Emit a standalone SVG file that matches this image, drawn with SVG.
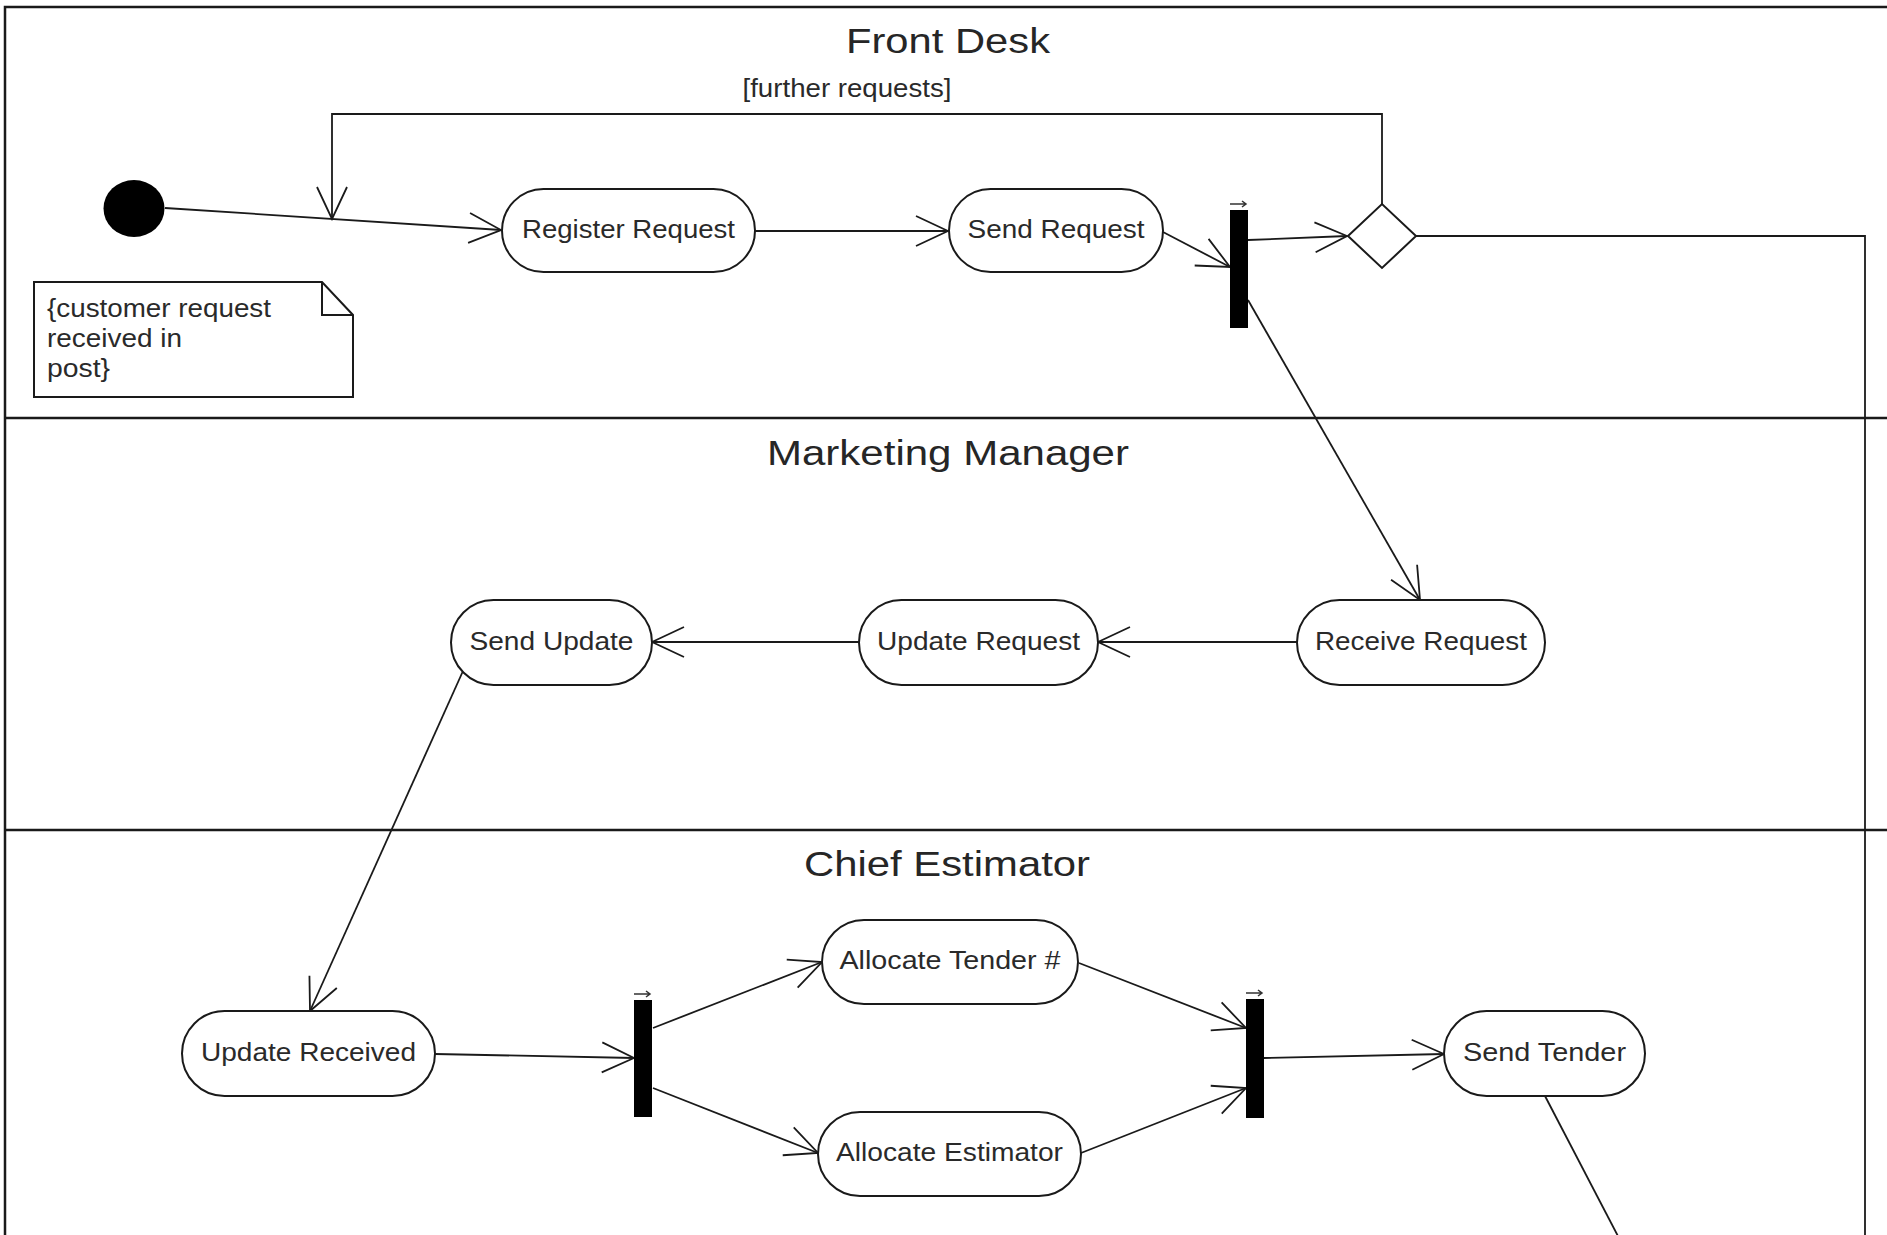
<svg xmlns="http://www.w3.org/2000/svg" width="1887" height="1235" viewBox="0 0 1887 1235">
<defs>
<marker id="arr" markerUnits="userSpaceOnUse" viewBox="-36 -18 38 36" refX="0" refY="0" markerWidth="38" markerHeight="36" orient="auto">
<path d="M-32,-15 L0,0 L-32,15" fill="none" stroke="#1a1a1a" stroke-width="1.8"/>
</marker>
<style>
.lane{fill:none;stroke:#1a1a1a;stroke-width:2.5}
.title{font-family:"Liberation Sans",Arial,sans-serif;font-size:35px;fill:#262626;text-anchor:middle}
.node rect{fill:#fff;stroke:#1a1a1a;stroke-width:2}
.lbl{font-family:"Liberation Sans",Arial,sans-serif;font-size:26px;fill:#2a2a2a;text-anchor:middle}
.note{font-family:"Liberation Sans",Arial,sans-serif;font-size:26px;fill:#2a2a2a}
.bar{fill:#000}
.tick{stroke:#333;stroke-width:1.5;fill:none}
.c{fill:none;stroke:#1a1a1a;stroke-width:1.8}
.ca{fill:none;stroke:#1a1a1a;stroke-width:1.8;marker-end:url(#arr)}
</style>
</defs>

<g id="swimlanes">
<rect class="lane" x="5" y="7" width="1920" height="1260"/>
<line class="lane" x1="5" y1="418" x2="1900" y2="418"/>
<line class="lane" x1="5" y1="830" x2="1900" y2="830"/>
<text class="title" x="948" y="53" textLength="204" lengthAdjust="spacingAndGlyphs">Front Desk</text>
<text class="title" x="948" y="465" textLength="362" lengthAdjust="spacingAndGlyphs">Marketing Manager</text>
<text class="title" x="947" y="876" textLength="286" lengthAdjust="spacingAndGlyphs">Chief Estimator</text>
</g>

<g id="connectors">
<line class="ca" x1="165" y1="208" x2="501" y2="230"/>
<polyline class="ca" points="1382,204 1382,114 332,114 332,219"/>
<line class="ca" x1="755" y1="231" x2="948" y2="231"/>
<line class="ca" x1="1163" y1="232" x2="1230" y2="267"/>
<line class="ca" x1="1248" y1="240" x2="1347" y2="236"/>
<line class="ca" x1="1248" y1="300" x2="1420" y2="600"/>
<polyline class="c" points="1416,236 1865,236 1865,1240"/>
<line class="ca" x1="1297" y1="642" x2="1098" y2="642"/>
<line class="ca" x1="859" y1="642" x2="652" y2="642"/>
<line class="ca" x1="463" y1="671" x2="310" y2="1011"/>
<line class="ca" x1="435" y1="1054" x2="634" y2="1058"/>
<line class="ca" x1="653" y1="1028" x2="822" y2="962"/>
<line class="ca" x1="653" y1="1088" x2="818" y2="1153"/>
<line class="ca" x1="1079" y1="963" x2="1246" y2="1028"/>
<line class="ca" x1="1081" y1="1153" x2="1246" y2="1088"/>
<line class="ca" x1="1264" y1="1058" x2="1444" y2="1054"/>
<line class="c" x1="1545" y1="1096" x2="1620" y2="1240"/>
<text class="lbl" x="847" y="97" textLength="209" lengthAdjust="spacingAndGlyphs" style="font-size:25px">[further requests]</text>
</g>

<g id="initial">
<ellipse cx="134" cy="208.5" rx="30.5" ry="28.5" fill="#000"/>
</g>

<g id="note">
<path d="M34,282 L322,282 L353,315 L353,397 L34,397 Z" fill="#fff" stroke="#1a1a1a" stroke-width="2"/>
<path d="M322,282 L322,315 L353,315" fill="none" stroke="#1a1a1a" stroke-width="2"/>
<text class="note" x="47" y="317" textLength="224" lengthAdjust="spacingAndGlyphs">{customer request</text>
<text class="note" x="47" y="347" textLength="135" lengthAdjust="spacingAndGlyphs">received in</text>
<text class="note" x="47" y="377" textLength="63" lengthAdjust="spacingAndGlyphs">post}</text>
</g>

<g id="register-request" class="node">
<rect x="502" y="189" width="253" height="83" rx="41.5"/>
<text class="lbl" x="628.5" y="238" textLength="213" lengthAdjust="spacingAndGlyphs">Register Request</text>
</g>
<g id="send-request" class="node">
<rect x="949" y="189" width="214" height="83" rx="41.5"/>
<text class="lbl" x="1056" y="238" textLength="177" lengthAdjust="spacingAndGlyphs">Send Request</text>
</g>
<g id="fork1">
<rect class="bar" x="1230" y="210" width="18" height="118"/>
<path class="tick" d="M1230,204 L1246,204 M1242,201 L1246,204 L1242,207"/>
</g>
<g id="decision">
<path d="M1348,236 L1382,204 L1416,236 L1382,268 Z" fill="#fff" stroke="#1a1a1a" stroke-width="2"/>
</g>

<g id="receive-request" class="node">
<rect x="1297" y="600" width="248" height="85" rx="42.5"/>
<text class="lbl" x="1421" y="650" textLength="212" lengthAdjust="spacingAndGlyphs">Receive Request</text>
</g>
<g id="update-request" class="node">
<rect x="859" y="600" width="239" height="85" rx="42.5"/>
<text class="lbl" x="978.5" y="650" textLength="203" lengthAdjust="spacingAndGlyphs">Update Request</text>
</g>
<g id="send-update" class="node">
<rect x="451" y="600" width="201" height="85" rx="42.5"/>
<text class="lbl" x="551.5" y="650" textLength="164" lengthAdjust="spacingAndGlyphs">Send Update</text>
</g>

<g id="update-received" class="node">
<rect x="182" y="1011" width="253" height="85" rx="42.5"/>
<text class="lbl" x="308.5" y="1061" textLength="215" lengthAdjust="spacingAndGlyphs">Update Received</text>
</g>
<g id="fork2">
<rect class="bar" x="634" y="1000" width="18" height="117"/>
<path class="tick" d="M634,994 L650,994 M646,991 L650,994 L646,997"/>
</g>
<g id="allocate-tender" class="node">
<rect x="822" y="920" width="256" height="84" rx="42"/>
<text class="lbl" x="950" y="969" textLength="221" lengthAdjust="spacingAndGlyphs">Allocate Tender #</text>
</g>
<g id="allocate-estimator" class="node">
<rect x="818" y="1112" width="263" height="84" rx="42"/>
<text class="lbl" x="949.5" y="1161" textLength="227" lengthAdjust="spacingAndGlyphs">Allocate Estimator</text>
</g>
<g id="join">
<rect class="bar" x="1246" y="999" width="18" height="119"/>
<path class="tick" d="M1246,993 L1262,993 M1258,990 L1262,993 L1258,996"/>
</g>
<g id="send-tender" class="node">
<rect x="1444" y="1011" width="201" height="85" rx="42.5"/>
<text class="lbl" x="1544.5" y="1061" textLength="163" lengthAdjust="spacingAndGlyphs">Send Tender</text>
</g>
</svg>
